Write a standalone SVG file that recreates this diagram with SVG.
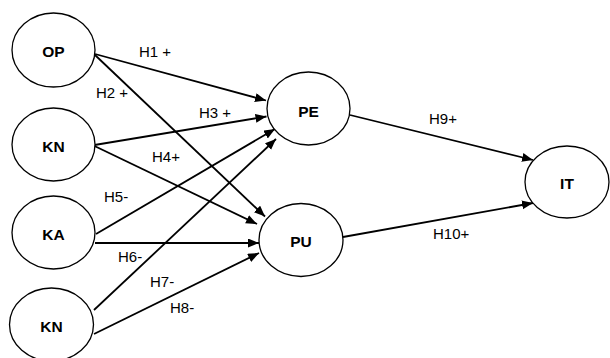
<svg xmlns="http://www.w3.org/2000/svg" width="610" height="358" viewBox="0 0 610 358">
<style>
.node ellipse{fill:#fff;stroke:#000;stroke-width:1.3}
.node text{font-family:"Liberation Sans",Arial,sans-serif;font-weight:bold;font-size:15.5px;fill:#000;text-anchor:middle}
.edge line{stroke:#000;stroke-width:1.8;marker-end:url(#ah)}
.lbl{font-family:"Liberation Sans",Arial,sans-serif;font-size:15px;fill:#000}
</style>
<defs>
<marker id="ah" markerUnits="userSpaceOnUse" markerWidth="12" markerHeight="10" refX="11" refY="4.5" orient="auto">
<path d="M0,0 L11,4.5 L0,9 z" fill="#000"/>
</marker>
</defs>
<rect width="610" height="358" fill="#fff"/>
<g id="connectors">
<g class="edge">
<line x1="95" y1="54" x2="266" y2="100.5"/>
<line x1="95" y1="55" x2="265" y2="216.5"/>
<line x1="94.5" y1="145" x2="266.5" y2="116.5"/>
<line x1="94.5" y1="146" x2="257" y2="224"/>
<line x1="96" y1="234" x2="275" y2="129"/>
<line x1="95" y1="243" x2="259" y2="243"/>
<line x1="94" y1="310" x2="276" y2="139"/>
<line x1="94" y1="334" x2="259" y2="253"/>
<line x1="350" y1="115" x2="533" y2="160"/>
<line x1="343" y1="237" x2="533" y2="203"/>
</g>
<text class="lbl" x="139" y="57">H1 +</text>
<text class="lbl" x="96" y="98">H2 +</text>
<text class="lbl" x="199" y="118">H3 +</text>
<text class="lbl" x="152" y="162">H4+</text>
<text class="lbl" x="104" y="202">H5-</text>
<text class="lbl" x="118" y="262">H6-</text>
<text class="lbl" x="150" y="287">H7-</text>
<text class="lbl" x="170" y="313">H8-</text>
<text class="lbl" x="429" y="124">H9+</text>
<text class="lbl" x="433" y="239">H10+</text>
</g>
<g id="node-OP" class="node"><ellipse cx="53.5" cy="50" rx="41.5" ry="37"/><text x="53.5" y="57">OP</text></g>
<g id="node-KN1" class="node"><ellipse cx="53.5" cy="144.5" rx="41.5" ry="36.5"/><text x="53.5" y="152">KN</text></g>
<g id="node-KA" class="node"><ellipse cx="53.5" cy="232.5" rx="41.5" ry="36.5"/><text x="53.5" y="240">KA</text></g>
<g id="node-KN2" class="node"><ellipse cx="51.5" cy="324.5" rx="42" ry="36.5"/><text x="51.5" y="332">KN</text></g>
<g id="node-PE" class="node"><ellipse cx="308.5" cy="108.5" rx="41.5" ry="36.5"/><text x="308.5" y="117">PE</text></g>
<g id="node-PU" class="node"><ellipse cx="301" cy="240" rx="42" ry="36.5"/><text x="301" y="247">PU</text></g>
<g id="node-IT" class="node"><ellipse cx="567" cy="182" rx="42" ry="36"/><text x="567" y="189">IT</text></g>
</svg>
